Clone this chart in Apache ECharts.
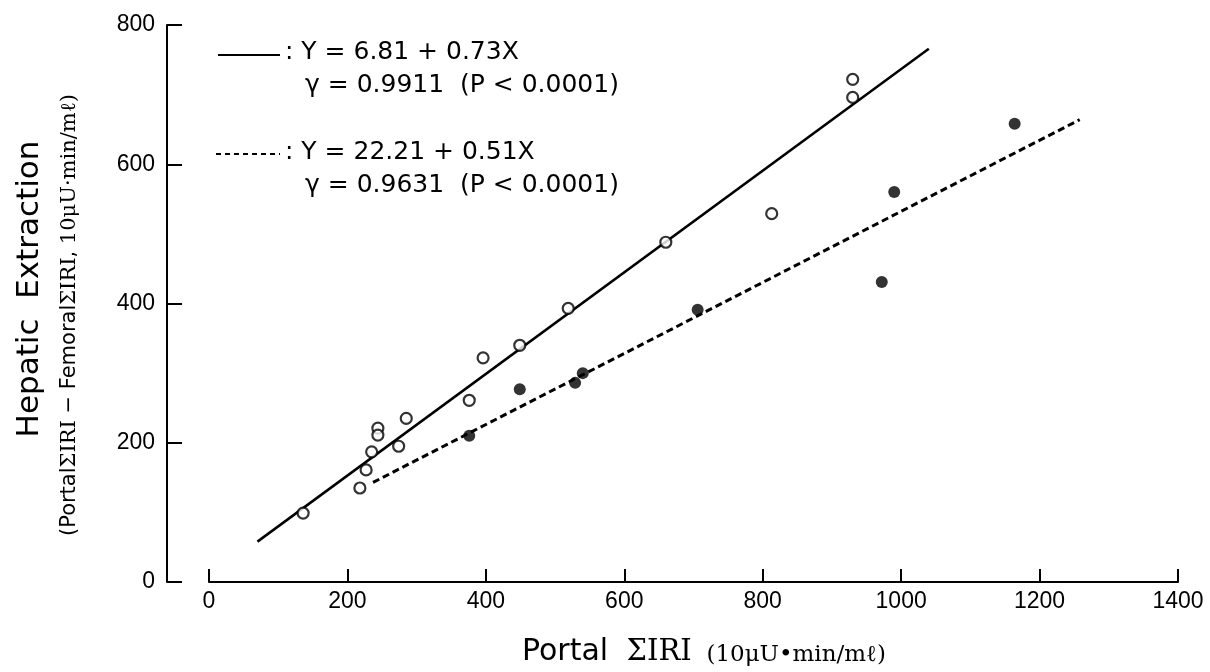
<!DOCTYPE html>
<html>
<head>
<meta charset="utf-8">
<script src="https://cdn.jsdelivr.net/npm/echarts@6/dist/echarts.min.js"></script>
<style>
html,body{margin:0;padding:0;background:#fff;}
#chart{width:1210px;height:672px;}
</style>
</head>
<body>
<div id="chart"></div>
<script>
// Open circles (solid regression line group)
const openX = [136, 218, 227, 235, 244, 244, 274, 285, 376, 396, 449, 519, 660, 813, 930, 930];
const openY = [99, 135, 161, 187, 221, 211, 195, 235, 261, 322, 340, 393, 488, 529, 696, 722];
// Filled circles (dashed regression line group)
const filledX = [376, 449, 529, 540, 706, 972, 990, 1164];
const filledY = [210, 277, 286, 300, 391, 431, 560, 658];
// Regression line end points
const solidLineX = [70, 1040];
const solidLineY = [58, 766];
const dashLineX = [237, 1258];
const dashLineY = [143, 664];
// Axis ranges [min, max, interval]
const xRange = [0, 1400, 200];
const yRange = [0, 800, 200];

const zip = (xs, ys) => xs.map((x, i) => [x, ys[i]]);
const INK = '#000';
const plain = v => String(v);
const TICKFONT = '"Liberation Sans Narrow", "Arial Narrow", sans-serif';

const chart = echarts.init(document.getElementById('chart'), null, {renderer: 'canvas'});

const option = {
  backgroundColor: '#fff',
  animation: false,
  grid: [
    {left: 209, right: 32, top: 25, bottom: 90, containLabel: false},
    {left: 167, right: 32, top: 25, bottom: 90, containLabel: false}
  ],
  xAxis: [
    {
      type: 'value', gridIndex: 0,
      min: xRange[0], max: xRange[1], interval: xRange[2],
      axisLine: {show: true, onZero: false, lineStyle: {color: INK, width: 2}},
      axisTick: {show: true, inside: true, length: 13, lineStyle: {color: INK, width: 2}},
      axisLabel: {color: INK, fontSize: 23, fontFamily: TICKFONT, margin: 8, formatter: plain},
      splitLine: {show: false}
    },
    {
      type: 'value', gridIndex: 1, show: false, min: 0, max: 1
    }
  ],
  yAxis: [
    {
      type: 'value', gridIndex: 0, show: false,
      min: yRange[0], max: yRange[1], interval: yRange[2]
    },
    {
      type: 'value', gridIndex: 1,
      min: yRange[0], max: yRange[1], interval: yRange[2],
      axisLine: {show: true, onZero: false, lineStyle: {color: INK, width: 2}},
      axisTick: {show: true, inside: true, length: 15, lineStyle: {color: INK, width: 2}},
      axisLabel: {color: INK, fontSize: 23, fontFamily: TICKFONT, margin: 12, formatter: plain},
      splitLine: {show: false}
    }
  ],
  series: [
    {
      type: 'line', xAxisIndex: 0, yAxisIndex: 0,
      data: zip(solidLineX, solidLineY), symbol: 'none', z: 2,
      lineStyle: {color: INK, width: 2.5, type: 'solid'}
    },
    {
      type: 'line', xAxisIndex: 0, yAxisIndex: 0,
      data: zip(dashLineX, dashLineY), symbol: 'none', z: 2,
      lineStyle: {color: INK, width: 3, type: [7, 4]}
    },
    {
      type: 'scatter', xAxisIndex: 0, yAxisIndex: 0,
      data: zip(openX, openY), symbol: 'circle', symbolSize: 11, z: 5,
      itemStyle: {color: '#fff', borderColor: INK, borderWidth: 2.2}
    },
    {
      type: 'scatter', xAxisIndex: 0, yAxisIndex: 0,
      data: zip(filledX, filledY), symbol: 'circle', symbolSize: 12, z: 5,
      itemStyle: {color: INK, borderColor: INK, borderWidth: 0}
    }
  ],
  graphic: [
    {type: 'line', shape: {x1: 218, y1: 55, x2: 280, y2: 55}, style: {stroke: INK, lineWidth: 2}},
    {type: 'text', x: 285, y: 52, style: {text: ': Y = 6.81 + 0.73X', fontSize: 25, fontFamily: 'DejaVu Sans', fill: INK, align: 'left', verticalAlign: 'middle'}},
    {type: 'text', x: 305, y: 85, style: {text: 'γ = 0.9911  (P < 0.0001)', fontSize: 25, fontFamily: 'DejaVu Sans', fill: INK, align: 'left', verticalAlign: 'middle'}},
    {type: 'line', shape: {x1: 216, y1: 154, x2: 280, y2: 154}, style: {stroke: INK, lineWidth: 2, lineDash: [5, 4]}},
    {type: 'text', x: 285, y: 152, style: {text: ': Y = 22.21 + 0.51X', fontSize: 25, fontFamily: 'DejaVu Sans', fill: INK, align: 'left', verticalAlign: 'middle'}},
    {type: 'text', x: 305, y: 185, style: {text: 'γ = 0.9631  (P < 0.0001)', fontSize: 25, fontFamily: 'DejaVu Sans', fill: INK, align: 'left', verticalAlign: 'middle'}},
    {
      type: 'text', x: 704, y: 652,
      style: {
        text: '{a|Portal}{b|  ΣIRI}{c|  (10μU•min/mℓ)}',
        align: 'center', verticalAlign: 'middle', fill: INK,
        rich: {
          a: {fontSize: 30, fontFamily: 'DejaVu Sans', fill: INK, verticalAlign: 'bottom'},
          b: {fontSize: 29, fontFamily: 'DejaVu Serif', fill: INK, verticalAlign: 'bottom'},
          c: {fontSize: 23, fontFamily: 'DejaVu Serif', fill: INK, verticalAlign: 'bottom'}
        }
      }
    },
    {
      type: 'text', x: 30, y: 289, rotation: Math.PI / 2,
      style: {text: 'Hepatic  Extraction', fontSize: 31, fontFamily: 'DejaVu Sans', fill: INK, align: 'center', verticalAlign: 'middle'}
    },
    {
      type: 'text', x: 70, y: 315, rotation: Math.PI / 2,
      style: {
        text: '{a|(Portal}{b|ΣIRI}{a| − Femoral}{b|ΣIRI}{a|, }{b|10μU·min/mℓ)}',
        align: 'center', verticalAlign: 'middle', fill: INK,
        rich: {
          a: {fontSize: 21, fontFamily: 'DejaVu Sans', fill: INK},
          b: {fontSize: 21, fontFamily: 'DejaVu Serif', fill: INK}
        }
      }
    }
  ]
};
chart.setOption(option);
</script>
</body>
</html>
